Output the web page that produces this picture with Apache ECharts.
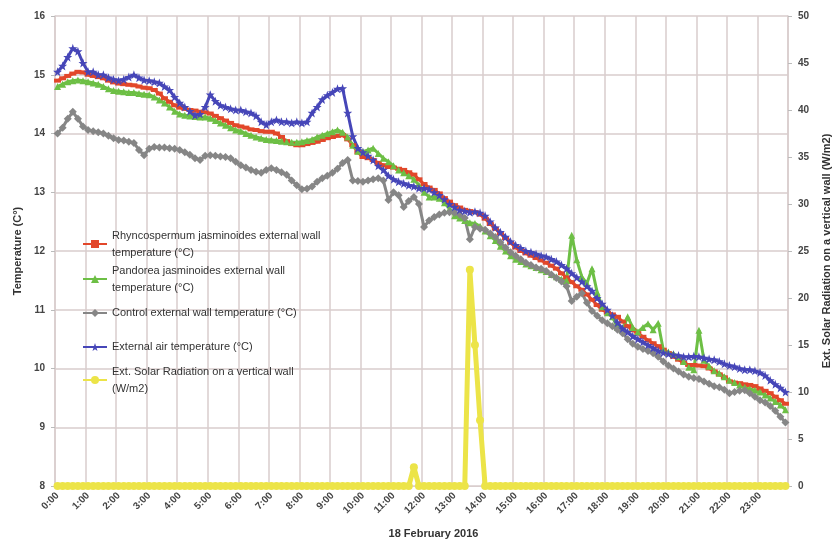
<!DOCTYPE html>
<html>
<head>
<meta charset="utf-8">
<script src="https://cdn.jsdelivr.net/npm/echarts@6/dist/echarts.min.js"></script>
<style>
html,body{margin:0;padding:0;background:#fff;}
#chart{width:834px;height:539px;}
</style>
</head>
<body>
<div id="chart"></div>
<script>
// 10-minute readings, 0:00 .. 23:50 (one row per hour)
const rhyncospermum = [
  14.9, 14.94, 14.98, 15.02, 15.05, 15.04,
  15.0, 14.98, 14.96, 14.94, 14.9, 14.87,
  14.85, 14.84, 14.83, 14.82, 14.8, 14.78,
  14.77, 14.74, 14.68, 14.6, 14.54, 14.48,
  14.44, 14.42, 14.4, 14.39, 14.37, 14.36,
  14.34, 14.3, 14.26, 14.22, 14.18, 14.14,
  14.12, 14.1, 14.07, 14.06, 14.04, 14.03,
  14.03, 14.0, 13.94, 13.87, 13.82, 13.8,
  13.8, 13.82, 13.84, 13.86, 13.89, 13.92,
  13.94, 13.96, 13.97, 13.9, 13.8, 13.68,
  13.6, 13.58, 13.55, 13.5, 13.46, 13.43,
  13.42, 13.4, 13.38, 13.34, 13.3, 13.22,
  13.14, 13.08, 13.04, 12.98, 12.9, 12.84,
  12.78, 12.74, 12.7, 12.68, 12.66, 12.62,
  12.55, 12.46, 12.38, 12.3, 12.22, 12.14,
  12.06, 12.0, 11.96, 11.92, 11.88, 11.84,
  11.8, 11.75, 11.7, 11.62, 11.55, 11.47,
  11.4, 11.34, 11.26, 11.17, 11.08, 11.0,
  10.95, 10.92, 10.88, 10.8, 10.72, 10.65,
  10.6, 10.54, 10.48, 10.43, 10.38, 10.32,
  10.26, 10.2, 10.15, 10.1, 10.06, 10.06,
  10.05, 10.04, 10.0, 9.95, 9.9, 9.85,
  9.78, 9.76, 9.75, 9.73, 9.72, 9.7,
  9.66, 9.62, 9.58, 9.52, 9.46, 9.4
];
const pandorea = [
  14.8, 14.84, 14.88, 14.9, 14.91, 14.9,
  14.88, 14.86, 14.84, 14.8, 14.76, 14.73,
  14.72, 14.71, 14.7, 14.7, 14.68, 14.67,
  14.66, 14.62, 14.57, 14.52, 14.45, 14.38,
  14.33, 14.31, 14.3, 14.29, 14.28, 14.28,
  14.26, 14.22, 14.18, 14.14, 14.1, 14.06,
  14.04, 14.0, 13.97, 13.94, 13.92, 13.9,
  13.89, 13.88, 13.87, 13.86, 13.85, 13.85,
  13.86, 13.88, 13.9, 13.94, 13.97, 14.0,
  14.03, 14.06, 14.02, 13.94, 13.8, 13.7,
  13.69, 13.72, 13.75, 13.66, 13.58, 13.52,
  13.45, 13.38, 13.33, 13.28, 13.22, 13.12,
  13.0, 12.92, 12.92, 12.9, 12.82, 12.72,
  12.6, 12.56, 12.52, 12.48, 12.47, 12.42,
  12.34, 12.26, 12.18, 12.08, 12.0, 11.92,
  11.86, 11.82, 11.78, 11.75, 11.72, 11.68,
  11.65, 11.6, 11.56, 11.52, 11.5, 12.27,
  11.85, 11.56, 11.45, 11.7, 11.3, 11.05,
  10.95, 10.88, 10.7, 10.65, 10.88, 10.7,
  10.62, 10.7, 10.76, 10.66, 10.77, 10.32,
  10.28, 10.25, 10.2, 10.12, 10.02, 9.98,
  10.65, 10.14, 10.04, 9.96, 9.92, 9.86,
  9.8, 9.76, 9.72, 9.68, 9.65, 9.63,
  9.6, 9.55, 9.5, 9.44, 9.38, 9.3
];
const control = [
  14.0, 14.1, 14.25, 14.37, 14.25, 14.12,
  14.06, 14.04, 14.02, 14.0, 13.96, 13.92,
  13.89, 13.88, 13.86, 13.84, 13.72, 13.63,
  13.74, 13.77, 13.76, 13.76, 13.75, 13.74,
  13.72, 13.68, 13.64, 13.58, 13.55, 13.62,
  13.63, 13.62, 13.61, 13.6, 13.58, 13.52,
  13.46, 13.42, 13.38, 13.35, 13.33, 13.38,
  13.41, 13.38, 13.34, 13.3, 13.2, 13.12,
  13.05, 13.06, 13.1, 13.18, 13.24, 13.28,
  13.33, 13.4, 13.5, 13.55, 13.2, 13.19,
  13.18, 13.2, 13.22, 13.24, 13.2, 12.87,
  13.0, 12.95, 12.75, 12.85, 12.92, 12.8,
  12.41, 12.52, 12.58, 12.62, 12.65, 12.66,
  12.65, 12.62, 12.56, 12.2, 12.41, 12.38,
  12.36, 12.3, 12.24, 12.15, 12.06, 11.98,
  11.92, 11.86, 11.8, 11.76, 11.72, 11.7,
  11.66, 11.6, 11.54, 11.48, 11.4, 11.15,
  11.22, 11.28, 11.12, 10.98, 10.9, 10.82,
  10.77, 10.72, 10.66, 10.6, 10.5, 10.42,
  10.37, 10.33, 10.3, 10.26, 10.2, 10.12,
  10.05, 10.0, 9.95, 9.9, 9.86, 9.84,
  9.82, 9.78, 9.74, 9.7, 9.68, 9.64,
  9.58, 9.6, 9.62, 9.63, 9.58, 9.52,
  9.46, 9.42, 9.36, 9.28, 9.18, 9.08
];
const airTemp = [
  15.05, 15.15, 15.3, 15.45, 15.4, 15.2,
  15.05, 15.05, 15.0, 15.0, 14.95, 14.92,
  14.9, 14.92, 14.96, 15.0, 14.95, 14.91,
  14.9, 14.88, 14.86, 14.8, 14.74, 14.62,
  14.52, 14.45, 14.38, 14.31, 14.33, 14.45,
  14.66, 14.55, 14.48, 14.45, 14.42, 14.4,
  14.4, 14.37, 14.35, 14.3, 14.2, 14.15,
  14.2, 14.23, 14.2, 14.2, 14.18, 14.2,
  14.18, 14.2, 14.35, 14.45, 14.58, 14.65,
  14.7, 14.76, 14.77, 14.35, 13.95, 13.75,
  13.68, 13.62, 13.55, 13.45, 13.38, 13.28,
  13.22, 13.18, 13.15, 13.12, 13.1, 13.07,
  13.07, 13.05, 13.0, 12.95, 12.88, 12.8,
  12.75, 12.7, 12.68, 12.66, 12.67, 12.65,
  12.6, 12.5, 12.4, 12.32, 12.24, 12.16,
  12.1, 12.05, 12.0, 11.98, 11.95, 11.92,
  11.9, 11.86, 11.82, 11.76, 11.7, 11.62,
  11.55, 11.48, 11.4, 11.32, 11.2, 11.1,
  11.0, 10.9, 10.78, 10.68, 10.62, 10.55,
  10.5, 10.45, 10.4, 10.35, 10.3, 10.27,
  10.25, 10.23, 10.22, 10.2, 10.2, 10.21,
  10.2, 10.18, 10.16, 10.15, 10.12, 10.08,
  10.05, 10.03, 10.0, 9.98, 9.98, 9.96,
  9.93, 9.88, 9.8, 9.73, 9.67, 9.6
];
const solar = [
  0, 0, 0, 0, 0, 0,
  0, 0, 0, 0, 0, 0,
  0, 0, 0, 0, 0, 0,
  0, 0, 0, 0, 0, 0,
  0, 0, 0, 0, 0, 0,
  0, 0, 0, 0, 0, 0,
  0, 0, 0, 0, 0, 0,
  0, 0, 0, 0, 0, 0,
  0, 0, 0, 0, 0, 0,
  0, 0, 0, 0, 0, 0,
  0, 0, 0, 0, 0, 0,
  0, 0, 0, 0, 2, 0,
  0, 0, 0, 0, 0, 0,
  0, 0, 0, 23, 15, 7,
  0, 0, 0, 0, 0, 0,
  0, 0, 0, 0, 0, 0,
  0, 0, 0, 0, 0, 0,
  0, 0, 0, 0, 0, 0,
  0, 0, 0, 0, 0, 0,
  0, 0, 0, 0, 0, 0,
  0, 0, 0, 0, 0, 0,
  0, 0, 0, 0, 0, 0,
  0, 0, 0, 0, 0, 0,
  0, 0, 0, 0, 0, 0
];

const seriesNames = [
  'Rhyncospermum jasminoides external wall temperature (°C)',
  'Pandorea jasminoides external wall temperature (°C)',
  'Control external wall temperature (°C)',
  'External air temperature (°C)',
  'Ext. Solar Radiation on a vertical wall (W/m2)'
];
const legendLines = [
  'Rhyncospermum jasminoides external wall\ntemperature (°C)',
  'Pandorea jasminoides external wall\ntemperature (°C)',
  'Control external wall temperature (°C)',
  'External air temperature (°C)',
  'Ext. Solar Radiation on a vertical wall\n(W/m2)'
];
const seriesColors = ['#e2472a', '#6dbf45', '#868686', '#4646b8', '#ece448'];
const leftTicks = [8, 16, 1];
const rightTicks = [0, 50, 5];

// categories: every 10 minutes
const times = [];
for (let h = 0; h < 24; h++) {
  for (let m = 0; m < 60; m += 10) {
    times.push(h + ':' + (m < 10 ? '0' + m : m));
  }
}

const FONT = 'Liberation Sans';
const gridColor = '#d9cdcd';

const chart = echarts.init(document.getElementById('chart'), null, {renderer: 'canvas'});

const star = 'path://M4,0 L5,3 L8,3 L5.6,5 L6.5,8 L4,6.2 L1.5,8 L2.4,5 L0,3 L3,3 Z';
const symbols = ['rect', 'triangle', 'diamond', star, 'circle'];
const symbolSizes = [[7, 4], 7, 8, 9, 8];
const dataSets = [rhyncospermum, pandorea, control, airTemp, solar];

const legendCenters = [244, 279, 313, 347, 380];
const legends = seriesNames.map((n, i) => {
  const twoLine = legendLines[i].indexOf('\n') >= 0;
  return {
    orient: 'vertical',
    left: 82,
    top: twoLine ? legendCenters[i] - 25.5 : legendCenters[i] - 8.5,
    padding: 0,
    itemWidth: 24,
    itemHeight: 10,
    itemGap: 0,
    selectedMode: false,
    data: [{name: n}],
    formatter: () => legendLines[i],
    textStyle: {
      fontFamily: FONT, fontSize: 11, color: '#333', lineHeight: 17,
      padding: twoLine ? [17, 0, 0, 0] : 0
    }
  };
});

const series = dataSets.map((d, i) => ({
  name: seriesNames[i],
  type: 'line',
  yAxisIndex: i === 4 ? 1 : 0,
  data: d,
  showAllSymbol: true,
  symbol: symbols[i],
  symbolSize: symbolSizes[i],
  lineStyle: {width: i === 4 ? 5 : 3, color: seriesColors[i]},
  itemStyle: {color: seriesColors[i]},
  animation: false
}));

chart.setOption({
  backgroundColor: '#fff',
  animation: false,
  legend: legends,
  grid: {left: 55, right: 46, top: 16, bottom: 53, containLabel: false, outerBoundsMode: 'none'},
  xAxis: {
    type: 'category',
    data: times,
    boundaryGap: true,
    name: '18 February 2016',
    nameLocation: 'middle',
    nameGap: 42,
    nameTextStyle: {fontFamily: FONT, fontSize: 11, fontWeight: 'bold', color: '#333', padding: [0, 0, 0, 24]},
    axisLine: {show: true, lineStyle: {color: gridColor}},
    axisTick: {show: false, interval: 5},
    axisLabel: {
      interval: 5, rotate: 45, margin: 8,
      fontFamily: FONT, fontSize: 10, fontWeight: 'bold', color: '#444',
      formatter: v => v
    },
    splitLine: {show: true, interval: 5, lineStyle: {color: gridColor, width: 1.5}}
  },
  yAxis: [
    {
      type: 'value', min: leftTicks[0], max: leftTicks[1], interval: leftTicks[2],
      name: 'Temperature (C°)',
      nameLocation: 'middle', nameGap: 32, nameRotate: 90,
      nameTextStyle: {fontFamily: FONT, fontSize: 11, fontWeight: 'bold', color: '#333'},
      axisLine: {show: true, lineStyle: {color: gridColor, width: 1.5}},
      axisTick: {show: true, length: 4, lineStyle: {color: '#bbb'}},
      axisLabel: {fontFamily: FONT, fontSize: 10, fontWeight: 'bold', color: '#444', margin: 10},
      splitLine: {show: true, lineStyle: {color: gridColor, width: 1.5}}
    },
    {
      type: 'value', min: rightTicks[0], max: rightTicks[1], interval: rightTicks[2],
      position: 'right',
      name: 'Ext. Solar Radiation on a vertical wall (W/m2)',
      nameLocation: 'middle', nameGap: 33, nameRotate: 90,
      nameTextStyle: {fontFamily: FONT, fontSize: 11, fontWeight: 'bold', color: '#333'},
      axisLine: {show: true, lineStyle: {color: gridColor, width: 1.5}},
      axisTick: {show: true, length: 4, lineStyle: {color: '#bbb'}},
      axisLabel: {fontFamily: FONT, fontSize: 10, fontWeight: 'bold', color: '#444', margin: 10},
      splitLine: {show: false}
    }
  ],
  series: series
});
</script>
</body>
</html>
